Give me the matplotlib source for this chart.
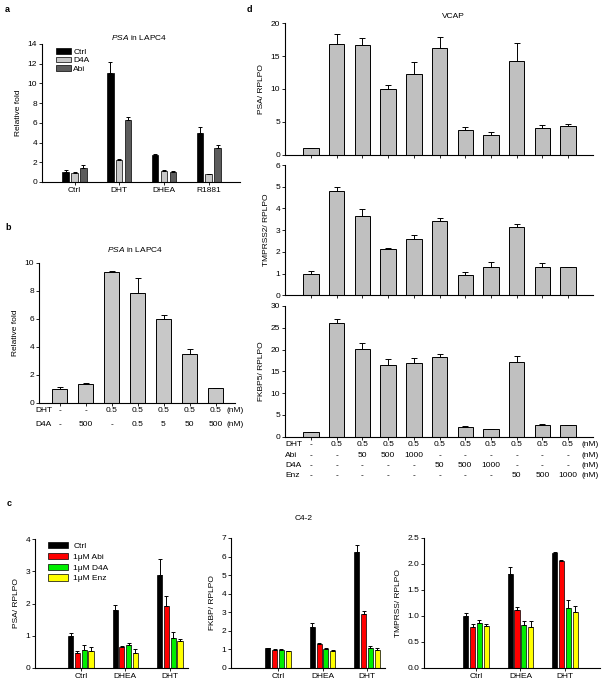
import numpy as np
import matplotlib.pyplot as plt
from matplotlib.transforms import blended_transform_factory

W, H = 602, 685
FS = 6

plt.rcParams['font.family'] = ['Liberation Sans', 'DejaVu Sans']
plt.rcParams['font.size'] = FS
plt.rcParams['mathtext.fontset'] = 'custom'
plt.rcParams['mathtext.rm'] = 'Liberation Sans'
plt.rcParams['mathtext.it'] = 'Liberation Sans:italic'
plt.rcParams['axes.linewidth'] = 0.8

# ---- panel a: PSA in LAPC4 ----
a_groups = ['Ctrl', 'DHT', 'DHEA', 'R1881']
a_series = ['Ctrl', 'D4A', 'Abi']
a_ctrl = [1.05, 11.05, 2.72, 4.97]
a_ctrl_err = [0.2, 1.1, 0.1, 0.6]
a_d4a = [0.96, 2.28, 1.12, 0.78]
a_d4a_err = [0.05, 0.05, 0.12, 0.06]
a_abi = [1.47, 6.29, 1.06, 3.49]
a_abi_err = [0.22, 0.35, 0.06, 0.23]
a_colors = ['black', '#c8c8c8', '#5c5c5c']

# ---- panel b: PSA in LAPC4, DHT / D4A ----
b_vals = [1.0, 1.33, 9.35, 7.85, 6.0, 3.45, 1.05]
b_err = [0.12, 0.08, 0.06, 1.05, 0.25, 0.4, 0.02]
b_dht = ['-', '-', '0.5', '0.5', '0.5', '0.5', '0.5']
b_d4a = ['-', '500', '-', '0.5', '5', '50', '500']

# ---- panel c: C4-2 ----
c_groups = ['Ctrl', 'DHEA', 'DHT']
c_series = ['Ctrl', '1\u03bcM Abi', '1\u03bcM D4A', '1\u03bcM Enz']
c_colors = ['black', '#ff0000', '#00ee00', '#ffff00']
c_psa = [[1.0, 1.79, 2.87], [0.45, 0.65, 1.92], [0.56, 0.7, 0.92], [0.54, 0.45, 0.85]]
c_psa_err = [[0.1, 0.16, 0.5], [0.07, 0.03, 0.3], [0.16, 0.06, 0.21], [0.11, 0.13, 0.05]]
c_fkbp = [[1.07, 2.22, 6.25], [0.98, 1.3, 2.93], [0.98, 1.03, 1.07], [0.89, 0.93, 0.98]]
c_fkbp_err = [[0.02, 0.18, 0.36], [0.03, 0.07, 0.12], [0.02, 0.03, 0.13], [0.03, 0.03, 0.12]]
c_tmprss = [[1.0, 1.81, 2.21], [0.79, 1.12, 2.06], [0.86, 0.83, 1.15], [0.8, 0.79, 1.07]]
c_tmprss_err = [[0.05, 0.13, 0.02], [0.06, 0.06, 0.02], [0.07, 0.08, 0.15], [0.04, 0.12, 0.12]]

# ---- panel d: VCAP ----
d_psa = [1.0, 16.9, 16.7, 9.97, 12.3, 16.2, 3.7, 3.0, 14.3, 4.1, 4.4]
d_psa_err = [0.05, 1.5, 1.0, 0.55, 1.8, 1.7, 0.55, 0.4, 2.7, 0.4, 0.25]
d_tmprss2 = [1.0, 4.8, 3.66, 2.13, 2.58, 3.42, 0.95, 1.3, 3.16, 1.3, 1.3]
d_tmprss2_err = [0.12, 0.18, 0.3, 0.05, 0.2, 0.14, 0.14, 0.25, 0.13, 0.18, 0.02]
d_fkbp5 = [1.0, 26.0, 20.2, 16.5, 16.8, 18.2, 2.25, 1.66, 17.1, 2.65, 2.65]
d_fkbp5_err = [0.1, 1.0, 1.4, 1.3, 1.2, 0.7, 0.05, 0.15, 1.3, 0.3, 0.05]
d_dht = ['-'] + ['0.5'] * 10
d_abi = ['-', '-', '50', '500', '1000', '-', '-', '-', '-', '-', '-']
d_d4a = ['-', '-', '-', '-', '-', '50', '500', '1000', '-', '-', '-']
d_enz = ['-'] * 8 + ['50', '500', '1000']

fig = plt.figure(figsize=(W / 100, H / 100), dpi=100)


def px_axes(left, top, right, bottom):
    return fig.add_axes([left / W, 1 - bottom / H, (right - left) / W, (bottom - top) / H])


def style(ax):
    ax.spines['top'].set_visible(False)
    ax.spines['right'].set_visible(False)
    ax.tick_params(length=2, width=0.6, pad=1.5, labelsize=FS)


def up_err(ax, x, y, e, cap=1.5):
    ax.errorbar(x, y, yerr=[np.zeros(len(e)), e], fmt='none', ecolor='black',
                elinewidth=0.7, capsize=cap, capthick=0.7)


def fy(py):
    return 1 - py / H


def fx(px):
    return px / W


# panel a
ax = px_axes(42, 44, 240, 182)
style(ax)
x = np.arange(len(a_groups))
for i, (vals, errs) in enumerate(zip([a_ctrl, a_d4a, a_abi], [a_ctrl_err, a_d4a_err, a_abi_err])):
    xs = x + (i - 1) * 0.2
    ax.bar(xs, vals, 0.145, color=a_colors[i], edgecolor='black', linewidth=0.5, label=a_series[i])
    up_err(ax, xs, vals, errs, cap=1.3)
ax.set_xlim(-0.727, 3.70)
ax.set_ylim(0, 14)
ax.set_yticks(range(0, 15, 2))
ax.set_xticks(x)
ax.set_xticklabels(a_groups)
ax.set_ylabel('Relative fold', labelpad=4)
ax.legend(loc='upper left', bbox_to_anchor=(fx(53), fy(45)), bbox_transform=fig.transFigure,
          frameon=False, handlelength=1.75, handleheight=0.6, labelspacing=0.12,
          handletextpad=0.3, borderaxespad=0, fontsize=FS)
fig.text(fx(139), fy(37), r'$\it{PSA}$ in LAPC4', ha='center', va='center', fontsize=FS)
fig.text(fx(5), fy(10), 'a', fontweight='bold', fontsize=6.5, va='center')

# panel b
ax = px_axes(39, 262.7, 235, 402.7)
style(ax)
x = np.arange(len(b_vals))
ax.bar(x, b_vals, 0.6, color='#c8c8c8', edgecolor='black', linewidth=0.7)
up_err(ax, x, b_vals, b_err, cap=2)
ax.set_xlim(-0.79, 6.75)
ax.set_ylim(0, 10)
ax.set_yticks(range(0, 11, 2))
ax.set_xticks(x)
ax.set_xticklabels([])
ax.set_ylabel('Relative fold', labelpad=4)
fig.text(fx(135), fy(250), r'$\it{PSA}$ in LAPC4', ha='center', va='center', fontsize=FS)
fig.text(fx(5), fy(228), 'b', fontweight='bold', fontsize=6.5, va='center')
tr = blended_transform_factory(ax.transData, fig.transFigure)
for row, (name, vals) in enumerate([('DHT', b_dht), ('D4A', b_d4a)]):
    yy = fy(411 + row * 14)
    fig.text(fx(35), yy, name, ha='left', va='center', fontsize=FS)
    for xi, v in zip(x, vals):
        ax.text(xi, yy, v, transform=tr, ha='center', va='center', fontsize=FS)
    fig.text(fx(235), yy, '(nM)', ha='center', va='center', fontsize=FS)

# panel c
c_specs = [
    ((35, 539, 188, 668), 1.03, 3.44, c_psa, c_psa_err, 4, range(0, 5), 'PSA/ RPLPO', None),
    ((231, 538, 385, 668), 1.056, 3.46, c_fkbp, c_fkbp_err, 7, range(0, 8), 'FKBP/ RPLPO', None),
    ((424, 538, 600, 668), 1.17, 3.96, c_tmprss, c_tmprss_err, 2.5, np.arange(0, 2.6, 0.5), 'TMPRSS/ RPLPO', '%.1f'),
]
for k, (box, x0, xw, vals, errs, ytop, yt, ylab, fmt) in enumerate(c_specs):
    ax = px_axes(*box)
    style(ax)
    x = np.arange(len(c_groups))
    for i in range(len(c_series)):
        xs = x + (i - 1.5) * 0.153
        ax.bar(xs, vals[i], 0.115, color=c_colors[i], edgecolor='black', linewidth=0.5,
               label=c_series[i])
        up_err(ax, xs, vals[i], errs[i], cap=1.3)
    ax.set_xlim(-x0, xw - x0)
    ax.set_ylim(0, ytop)
    ax.set_yticks(yt)
    if fmt:
        ax.set_yticklabels([fmt % v for v in yt])
    ax.set_xticks(x)
    ax.set_xticklabels(c_groups)
    ax.set_ylabel(ylab, labelpad=4)
    if k == 0:
        ax.legend(loc='upper left', bbox_to_anchor=(fx(45), fy(539)), bbox_transform=fig.transFigure,
                  frameon=False, handlelength=2.4, handleheight=0.75, labelspacing=0.33,
                  handletextpad=0.6, borderaxespad=0, fontsize=FS)
fig.text(fx(304), fy(518), 'C4-2', ha='center', va='center', fontsize=FS)
fig.text(fx(7), fy(503), 'c', fontweight='bold', fontsize=6.5, va='center')

# panel d
d_specs = [
    ((285, 23.3, 593, 154.5), d_psa, d_psa_err, 20, range(0, 21, 5), 'PSA/ RPLPO'),
    ((285, 165, 593, 295.4), d_tmprss2, d_tmprss2_err, 6, range(0, 7), 'TMPRSS2/ RPLPO'),
    ((285, 306, 593, 436.5), d_fkbp5, d_fkbp5_err, 30, range(0, 31, 5), 'FKBP5/ RPLPO'),
]
for box, vals, errs, ytop, yt, ylab in d_specs:
    ax = px_axes(*box)
    style(ax)
    x = np.arange(len(vals))
    ax.bar(x, vals, 0.6, color='#c0c0c0', edgecolor='black', linewidth=0.7)
    up_err(ax, x, vals, errs, cap=2.5)
    ax.set_xlim(-1.01, 10.97)
    ax.set_ylim(0, ytop)
    ax.set_yticks(yt)
    ax.set_xticks(x)
    ax.set_xticklabels([])
    ax.set_ylabel(ylab, labelpad=4)
fig.text(fx(453), fy(17), 'VCAP', ha='center', va='center', fontsize=FS)
fig.text(fx(247), fy(10), 'd', fontweight='bold', fontsize=6.5, va='center')
tr = blended_transform_factory(ax.transData, fig.transFigure)
d_rows = [('DHT', d_dht), ('Abi', d_abi), ('D4A', d_d4a), ('Enz', d_enz)]
for row, (name, vals) in enumerate(d_rows):
    yy = fy(445 + row * 10.3)
    fig.text(fx(285), yy, name, ha='left', va='center', fontsize=FS)
    for xi, v in zip(range(len(vals)), vals):
        ax.text(xi, yy, v, transform=tr, ha='center', va='center', fontsize=FS)
    fig.text(fx(590), yy, '(nM)', ha='center', va='center', fontsize=FS)

fig.savefig('out.png', dpi=100, facecolor='white')
